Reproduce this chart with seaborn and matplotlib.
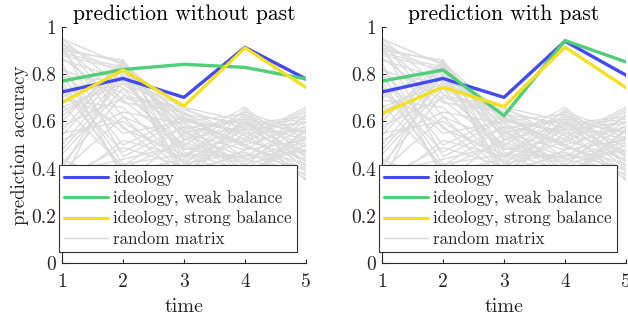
import numpy as np
import pandas as pd
import matplotlib
matplotlib.use("Agg")
import matplotlib.pyplot as plt
import seaborn as sns
from matplotlib.lines import Line2D

sns.set_style("white")
plt.rcParams["font.family"] = ["cmr10", "DejaVu Serif"]
plt.rcParams["axes.formatter.use_mathtext"] = True
plt.rcParams["mathtext.fontset"] = "cm"

time = [1, 2, 3, 4, 5]
titles = ["prediction without past", "prediction with past"]
series_names = ["ideology", "ideology, weak balance", "ideology, strong balance"]
colors = ["#434bf0", "#52cd78", "#f4e022"]
gray = "#dcdcdc"

# left panel: prediction without past
nopast_ideology = [0.725, 0.782, 0.702, 0.914, 0.780]
nopast_weak = [0.771, 0.820, 0.842, 0.829, 0.780]
nopast_strong = [0.680, 0.818, 0.665, 0.912, 0.744]
# right panel: prediction with past
past_ideology = [0.725, 0.782, 0.702, 0.940, 0.796]
past_weak = [0.771, 0.818, 0.624, 0.943, 0.852]
past_strong = [0.634, 0.745, 0.663, 0.915, 0.743]

# random matrix runs
random_runs = [
    [0.95, 0.84, 0.55, 0.48, 0.52],
    [0.93, 0.80, 0.45, 0.60, 0.40],
    [0.91, 0.85, 0.62, 0.50, 0.58],
    [0.94, 0.62, 0.38, 0.55, 0.47],
    [0.86, 0.78, 0.66, 0.52, 0.44],
    [0.92, 0.45, 0.58, 0.41, 0.63],
    [0.82, 0.72, 0.50, 0.64, 0.55],
    [0.90, 0.86, 0.42, 0.47, 0.36],
    [0.78, 0.55, 0.60, 0.38, 0.50],
    [0.88, 0.82, 0.35, 0.58, 0.61],
    [0.74, 0.40, 0.52, 0.66, 0.45],
    [0.87, 0.68, 0.64, 0.44, 0.38],
    [0.70, 0.84, 0.48, 0.53, 0.66],
    [0.85, 0.36, 0.40, 0.60, 0.52],
    [0.66, 0.76, 0.56, 0.35, 0.57],
    [0.83, 0.50, 0.62, 0.49, 0.42],
    [0.62, 0.83, 0.37, 0.62, 0.49],
    [0.80, 0.42, 0.46, 0.45, 0.60],
    [0.58, 0.70, 0.65, 0.57, 0.35],
    [0.56, 0.85, 0.53, 0.40, 0.54],
    [0.77, 0.38, 0.44, 0.63, 0.47],
    [0.52, 0.64, 0.59, 0.51, 0.64],
    [0.50, 0.80, 0.39, 0.46, 0.40],
    [0.75, 0.47, 0.61, 0.55, 0.56],
    [0.46, 0.74, 0.47, 0.39, 0.50],
    [0.44, 0.33, 0.55, 0.61, 0.43],
    [0.72, 0.58, 0.36, 0.48, 0.62],
    [0.40, 0.81, 0.63, 0.54, 0.39],
    [0.38, 0.44, 0.50, 0.43, 0.58],
    [0.69, 0.66, 0.42, 0.59, 0.46],
    [0.34, 0.85, 0.57, 0.37, 0.53],
    [0.32, 0.52, 0.45, 0.65, 0.41],
    [0.95, 0.74, 0.60, 0.56, 0.60],
    [0.93, 0.69, 0.49, 0.42, 0.48],
    [0.89, 0.83, 0.57, 0.61, 0.55],
    [0.64, 0.79, 0.61, 0.50, 0.37],
    [0.55, 0.60, 0.43, 0.57, 0.59],
    [0.48, 0.77, 0.54, 0.45, 0.51],
    [0.42, 0.71, 0.66, 0.60, 0.45],
    [0.36, 0.49, 0.41, 0.52, 0.65],
    [0.60, 0.86, 0.52, 0.58, 0.43],
    [0.91, 0.57, 0.46, 0.36, 0.56],
    [0.79, 0.77, 0.63, 0.59, 0.62],
    [0.67, 0.41, 0.58, 0.50, 0.39],
    [0.54, 0.82, 0.60, 0.63, 0.53],
    [0.39, 0.62, 0.51, 0.44, 0.48],
]

rows = []
for r, vals in enumerate(random_runs):
    for t, v in zip(time, vals):
        rows.append({"run": r, "time": t, "acc": v})
df_rand = pd.DataFrame(rows)

panels = [
    [nopast_ideology, nopast_weak, nopast_strong],
    [past_ideology, past_weak, past_strong],
]

fig = plt.figure(figsize=(6.28, 3.2), dpi=100)
axes = [fig.add_axes([0.0987, 0.178, 0.3885, 0.7375]),
        fig.add_axes([0.6083, 0.178, 0.3885, 0.7375])]

axcol = "#262626"
for i, ax in enumerate(axes):
    sns.lineplot(data=df_rand, x="time", y="acc", units="run", estimator=None,
                 color=gray, lw=1.0, ax=ax, legend=False)
    dfs = []
    for name, vals in zip(series_names, panels[i]):
        dfs.append(pd.DataFrame({"time": time, "acc": vals, "series": name}))
    df = pd.concat(dfs)
    sns.lineplot(data=df, x="time", y="acc", hue="series", palette=colors,
                 hue_order=series_names, lw=2.4, ax=ax, legend=False)
    ax.set_xlim(1, 5)
    ax.set_ylim(0, 1)
    ax.set_xticks(time)
    ax.set_xticklabels([str(t) for t in time])
    ax.set_yticks([0, 0.2, 0.4, 0.6, 0.8, 1])
    ax.set_yticklabels(["0", "0.2", "0.4", "0.6", "0.8", "1"])
    ax.tick_params(direction="in", length=3, width=0.8, colors=axcol,
                   labelsize=14, pad=4, left=True, bottom=True)
    ax.tick_params(axis="x", pad=7)
    for s in ["top", "right"]:
        ax.spines[s].set_visible(False)
    for s in ["left", "bottom"]:
        ax.spines[s].set_color(axcol)
        ax.spines[s].set_linewidth(0.8)
    ax.set_title(titles[i], fontsize=15.5, color="black", pad=5)
    ax.set_xlabel("time", fontsize=14.5, color=axcol, labelpad=5)
    ax.set_ylabel("prediction accuracy" if i == 0 else "", fontsize=13.5,
                  color=axcol, labelpad=2)

    handles = [Line2D([], [], color=c, lw=2.2) for c in colors] + [Line2D([], [], color=gray, lw=1.0)]
    labels = series_names + ["random matrix"]
    leg = ax.legend(handles, labels, loc="lower left", bbox_to_anchor=(-0.012, 0.047),
                    borderaxespad=0, fontsize=12.2, frameon=True, fancybox=False,
                    handlelength=2.6, handletextpad=0.3, labelspacing=0.25,
                    borderpad=0.3, framealpha=1)
    leg.get_frame().set_edgecolor("#333333")
    leg.get_frame().set_linewidth(0.8)
    for t in leg.get_texts():
        t.set_color(axcol)

fig.savefig("out.png", dpi=100)
